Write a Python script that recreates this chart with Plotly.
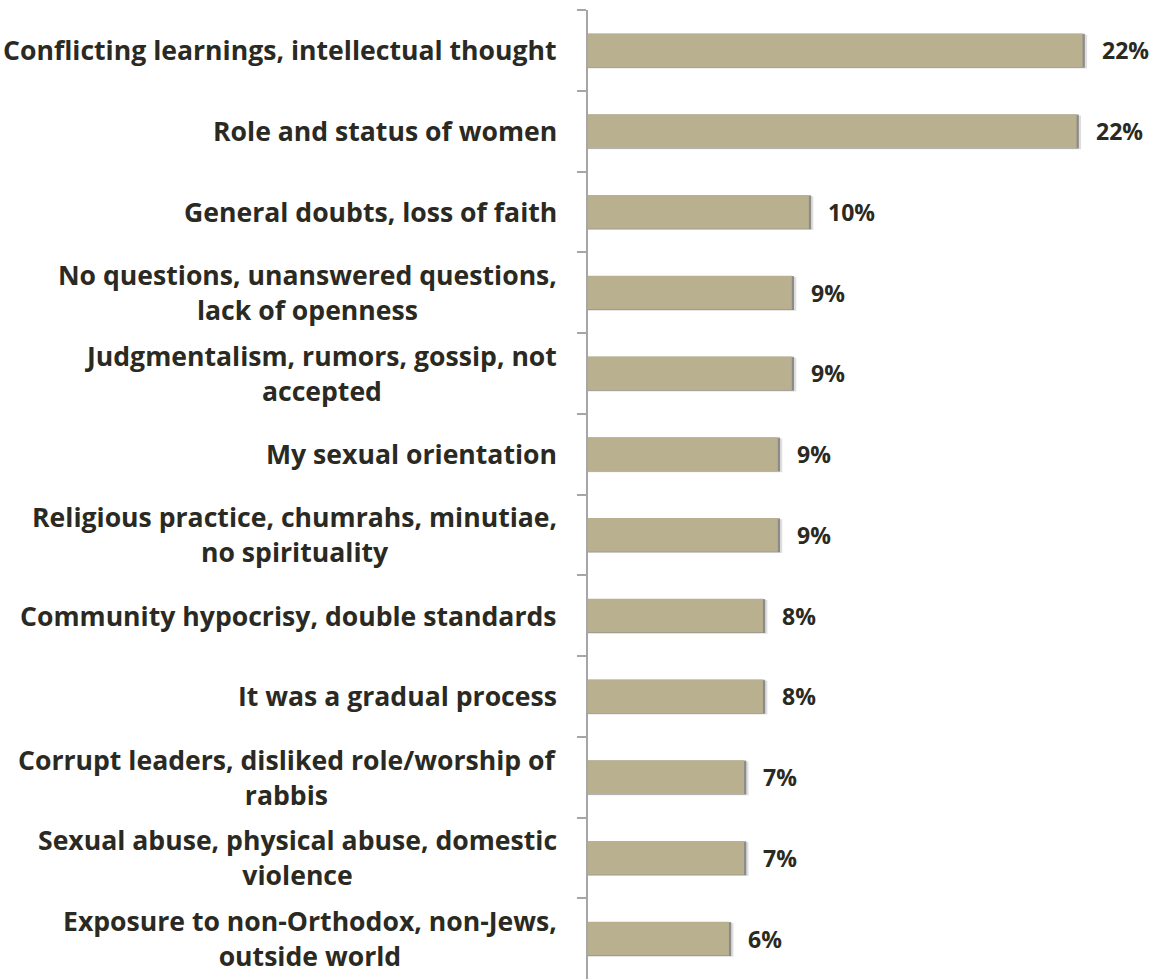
import plotly.graph_objects as go

# Reasons given, top to bottom
categories = [
    "Conflicting learnings, intellectual thought",
    "Role and status of women",
    "General doubts, loss of faith",
    "No questions, unanswered questions,<br>lack of openness",
    "Judgmentalism, rumors, gossip, not<br>accepted",
    "My sexual orientation",
    "Religious practice, chumrahs, minutiae,<br>no spirituality",
    "Community hypocrisy, double standards",
    "It was a gradual process",
    "Corrupt leaders, disliked role/worship of<br>rabbis",
    "Sexual abuse, physical abuse, domestic<br>violence",
    "Exposure to non-Orthodox, non-Jews,<br>outside world",
]
# Share of respondents (%)
values = [22.28, 22.01, 9.95, 9.18, 9.18, 8.55, 8.55, 7.88, 7.88, 7.03, 7.03, 6.35]

BAR = "#b8b08e"
TEXT = "#2b2a22"
AXIS = "#a6a6a6"
FONT = "Open Sans"

fig = go.Figure()

# soft drop shadow behind each bar
for dx, shift, col in [(0.2, -0.195, "rgba(90,90,90,0.2)"),
                       (0.1, -0.205, "rgba(55,55,55,0.5)")]:
    fig.add_trace(go.Bar(
        y=categories, x=[v + dx for v in values], orientation="h",
        width=0.42, offset=shift, marker=dict(color=col, line_width=0),
        hoverinfo="skip", showlegend=False,
    ))

fig.add_trace(go.Bar(
    y=categories, x=values, orientation="h",
    width=0.42, offset=-0.21, marker=dict(color=BAR, line_width=0),
    hoverinfo="skip", showlegend=False,
))

# value labels to the right of each bar
for c, v in zip(categories, values):
    fig.add_annotation(
        x=v, y=c, xref="x", yref="y", text=f"{v:.0f}%", showarrow=False,
        xanchor="left", yanchor="middle", xshift=17,
        font=dict(family=FONT, size=23, color=TEXT, weight="bold"),
    )

# category labels, centred line by line
for c in categories:
    fig.add_annotation(
        x=0, y=c, xref="paper", yref="y", text=c, showarrow=False,
        xanchor="right", yanchor="middle", align="center", xshift=-29,
        font=dict(family=FONT, size=26.6, color=TEXT, weight="bold"),
    )

fig.update_layout(
    width=1154, height=979,
    margin=dict(l=588, r=11, t=10, b=0),
    paper_bgcolor="white", plot_bgcolor="white",
    barmode="overlay",
    xaxis=dict(range=[0, 25], visible=False),
    yaxis=dict(
        type="category", autorange="reversed",
        showline=True, linecolor=AXIS, linewidth=2,
        ticks="outside", tickson="boundaries", ticklen=9,
        tickwidth=2, tickcolor=AXIS, showticklabels=False,
        showgrid=False, zeroline=False,
    ),
)

fig.write_html("out.html")
